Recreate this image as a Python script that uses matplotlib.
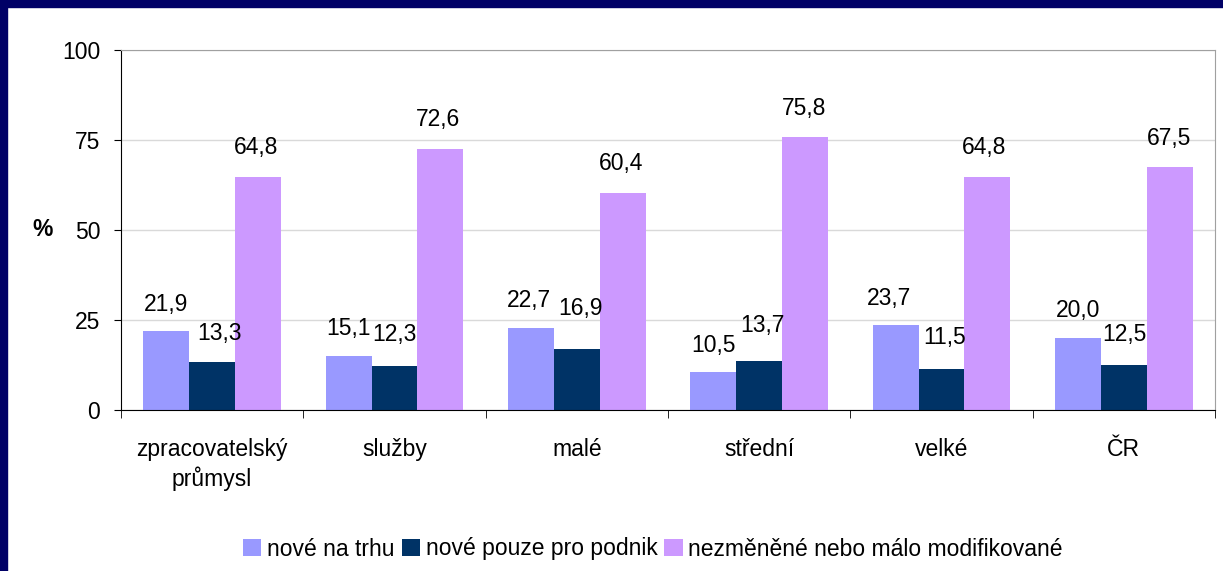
import numpy as np
import matplotlib
matplotlib.use("Agg")
import matplotlib.pyplot as plt
from matplotlib.patches import Rectangle

plt.rcParams['font.family'] = ['Liberation Sans', 'DejaVu Sans']

categories = ["zpracovatelský\nprůmysl", "služby", "malé", "střední", "velké", "ČR"]
series_names = ["nové na trhu", "nové pouze pro podnik", "nezměněné nebo málo modifikované"]
nove_na_trhu = [21.9, 15.1, 22.7, 10.5, 23.7, 20.0]
nove_pro_podnik = [13.3, 12.3, 16.9, 13.7, 11.5, 12.5]
nezmenene = [64.8, 72.6, 60.4, 75.8, 64.8, 67.5]
colors = ["#9999FF", "#003366", "#CC99FF"]

# label nudges (pixels) as they sit in the original chart
label_dx = [[0, 0, -2, 0, -7, 0],
            [7, 0, 4, 3, 3, 1],
            [-2, -2, -2, -1, -3, -1]]
label_dy = [[27, 27, 28, 27, 26, 27],
            [29, 31, 41, 35, 31, 30],
            [29, 29, 29, 29, 29, 29]]

FS = 16.5

fig = plt.figure(figsize=(12.23, 5.71), dpi=100)
fig.patch.set_facecolor("white")
# navy frame on top and left edge
fig.patches.append(Rectangle((0, 0), 7 / 1223, 1, transform=fig.transFigure,
                             color="#000066", zorder=10))
fig.patches.append(Rectangle((0, 1 - 7 / 571), 1, 7 / 571, transform=fig.transFigure,
                             color="#000066", zorder=10))

ax = fig.add_axes([121 / 1223, 1 - 410 / 571, (1215 - 121) / 1223, 360 / 571])

x = np.arange(len(categories))
w = 0.252
series = [nove_na_trhu, nove_pro_podnik, nezmenene]
for i, (vals, col) in enumerate(zip(series, colors)):
    pos = x + (i - 1) * w
    ax.bar(pos, vals, width=w, color=col, label=series_names[i], zorder=2)
    for j, (px, v) in enumerate(zip(pos, vals)):
        ax.annotate(f"{v:.1f}".replace(".", ","), (px, v),
                    xytext=(label_dx[i][j], label_dy[i][j]),
                    textcoords="offset pixels", ha="center", va="center",
                    fontsize=FS, zorder=3)

ax.set_xlim(-0.5, len(categories) - 0.5)
ax.set_ylim(0, 100)
ax.set_yticks([0, 25, 50, 75, 100])
ax.yaxis.grid(True, color="#d9d9d9", linewidth=1, zorder=0)
ax.tick_params(axis="y", labelsize=FS, length=5, pad=10, direction="out")

ax.set_xticks(x)
ax.set_xticklabels(categories, fontsize=FS, linespacing=1.3)
ax.set_xticks(np.arange(len(categories) + 1) - 0.5, minor=True)
ax.tick_params(axis="x", which="major", length=0, pad=20)
ax.tick_params(axis="x", which="minor", length=6, direction="out")

for s in ["top", "right"]:
    ax.spines[s].set_color("#a0a0a0")
for s in ["left", "bottom"]:
    ax.spines[s].set_color("black")

fig.text(43 / 1223, 1 - 230 / 571, "%", fontsize=FS, fontweight="bold",
         ha="center", va="center")

fig.legend(loc="center", bbox_to_anchor=(653 / 1223, 1 - 549 / 571), ncol=3,
           frameon=False, fontsize=FS, handlelength=0.8, handleheight=0.8,
           handletextpad=0.25, columnspacing=0.3)

fig.savefig("out.png", dpi=100)
